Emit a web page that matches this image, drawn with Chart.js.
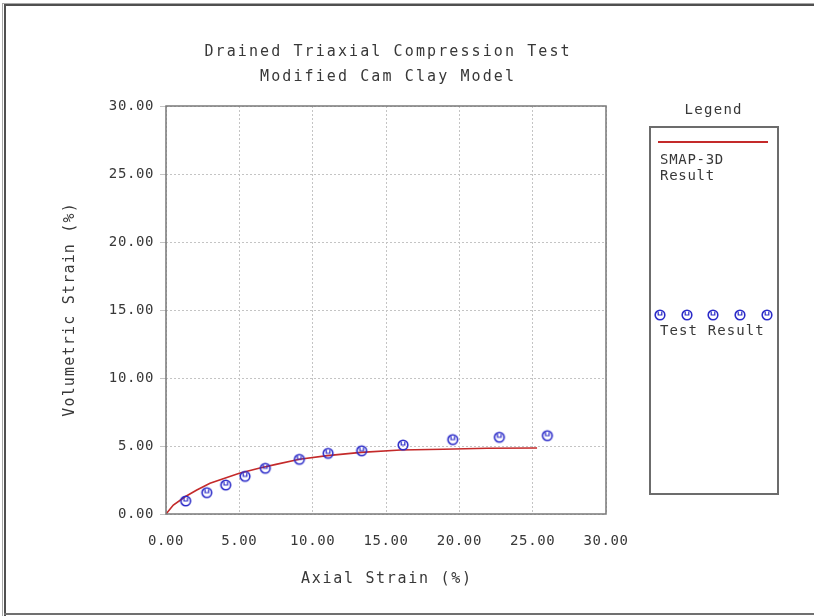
<!DOCTYPE html>
<html>
<head>
<meta charset="utf-8">
<script src="https://cdn.jsdelivr.net/npm/chart.js@4.4.1/dist/chart.umd.min.js"></script>
<style>
  html, body { margin: 0; padding: 0; background: #ffffff; }
  #c { display: block; }
</style>
</head>
<body>
<canvas id="c" width="814" height="616"></canvas>
<script>
// ---- data ----
const titleLines = ["Drained Triaxial Compression Test", "Modified Cam Clay Model"];
const xAxisLabel = "Axial Strain (%)";
const yAxisLabel = "Volumetric Strain (%)";
const xTickValues = [0, 5, 10, 15, 20, 25, 30];
const yTickValues = [0, 5, 10, 15, 20, 25, 30];
const curveName = ["SMAP-3D", "Result"];
const testName = "Test Result";
const curveX = [0, 0.5, 1.3, 2.1, 3.0, 4.1, 5.0, 6.4, 7.5, 9.1, 11.0, 13.3, 16.0, 18.9, 21.9, 25.3];
const curveY = [0, 0.66, 1.27, 1.76, 2.26, 2.67, 3.0, 3.38, 3.65, 4.02, 4.29, 4.53, 4.71, 4.76, 4.83, 4.85];
const testX = [1.34, 2.78, 4.07, 5.39, 6.77, 9.09, 11.05, 13.34, 16.16, 19.55, 22.73, 26.0];
const testY = [0.96, 1.57, 2.13, 2.77, 3.36, 4.02, 4.46, 4.65, 5.07, 5.47, 5.64, 5.76];

const TEXT = '#383838';
const BLUE = '#2a2ac8';
const RED = '#c42a2a';
const MONO = '"DejaVu Sans Mono", "Liberation Mono", monospace';

// marker image (circle with small tick inside)
function makeMarker() {
  const m = document.createElement('canvas');
  m.width = 14; m.height = 14;
  const g = m.getContext('2d');
  g.strokeStyle = BLUE;
  g.lineWidth = 1.6;
  g.beginPath();
  g.arc(7, 7, 4.8, 0, Math.PI * 2);
  g.stroke();
  g.lineWidth = 1.2;
  g.beginPath();
  g.moveTo(5.2, 3.5); g.lineTo(5.2, 7); g.lineTo(8.8, 7); g.lineTo(8.8, 3.5);
  g.stroke();
  return m;
}
const marker = makeMarker();

const curveData = curveX.map((x, i) => ({ x: x, y: curveY[i] }));
const testData = testX.map((x, i) => ({ x: x, y: testY[i] }));

function drawText(ctx, str, x, y, size, spacing, align) {
  ctx.save();
  ctx.font = size + 'px ' + MONO;
  ctx.letterSpacing = spacing + 'px';
  ctx.fillStyle = TEXT;
  ctx.textBaseline = 'middle';
  let w = ctx.measureText(str).width - spacing;
  let sx = x;
  if (align === 'center') sx = x - w / 2;
  else if (align === 'right') sx = x - w;
  ctx.textAlign = 'left';
  ctx.fillText(str, sx, y);
  ctx.restore();
}

const decor = {
  id: 'decor',
  beforeDraw(chart) {
    const ctx = chart.ctx;
    ctx.letterSpacing = '0.6px';
    ctx.save();
    ctx.fillStyle = '#ffffff';
    ctx.fillRect(0, 0, 814, 616);
    ctx.fillStyle = '#a8a8a8';
    ctx.fillRect(2, 3, 812, 1);
    ctx.fillRect(2, 3, 1, 613);
    ctx.fillStyle = '#505050';
    ctx.fillRect(4, 4, 810, 2);
    ctx.fillRect(4, 4, 2, 612);
    ctx.fillStyle = '#707070';
    ctx.fillRect(4, 613, 810, 2);
    ctx.restore();
  },
  afterDatasetsDraw(chart) {
    const ctx = chart.ctx;
    const a = chart.chartArea;
    ctx.save();
    ctx.strokeStyle = '#787878';
    ctx.lineWidth = 1.5;
    ctx.strokeRect(a.left, a.top, a.right - a.left, a.bottom - a.top);
    ctx.restore();
  },
  afterDraw(chart) {
    const ctx = chart.ctx;
    const a = chart.chartArea;
    drawText(ctx, titleLines[0], 387, 52, 15, 2.1, 'center');
    drawText(ctx, titleLines[1], 387, 77, 15, 2.1, 'center');
    drawText(ctx, xAxisLabel, (a.left + a.right) / 2, 579, 15, 1.7, 'center');
    ctx.save();
    ctx.translate(70, (a.top + a.bottom) / 2 + 0);
    ctx.rotate(-Math.PI / 2);
    drawText(ctx, yAxisLabel, 0, 0, 15, 1.2, 'center');
    ctx.restore();
    drawText(ctx, 'Legend', 713, 110, 14, 1.3, 'center');
    ctx.save();
    ctx.strokeStyle = '#6c6c6c';
    ctx.lineWidth = 2;
    ctx.strokeRect(650, 127, 128, 367);
    ctx.strokeStyle = RED;
    ctx.lineWidth = 1.8;
    ctx.beginPath();
    ctx.moveTo(658, 142); ctx.lineTo(768, 142);
    ctx.stroke();
    [660, 687, 713, 740, 767].forEach(px => ctx.drawImage(marker, px - 7, 315 - 7));
    ctx.restore();
    drawText(ctx, curveName[0], 660, 160, 14, 0.7, 'left');
    drawText(ctx, curveName[1], 660, 176, 14, 0.7, 'left');
    drawText(ctx, testName, 660, 331, 14, 1.1, 'left');
    ctx.letterSpacing = '0px';
  }
};

new Chart(document.getElementById('c'), {
  type: 'scatter',
  data: {
    datasets: [
      {
        type: 'line',
        label: 'SMAP-3D Result',
        data: curveData,
        borderColor: RED,
        borderWidth: 1.6,
        pointRadius: 0,
        fill: false,
        tension: 0,
        order: 2
      },
      {
        label: 'Test Result',
        data: testData,
        pointStyle: marker,
        pointRadius: 6,
        showLine: false,
        order: 1
      }
    ]
  },
  options: {
    responsive: false,
    animation: false,
    devicePixelRatio: 1,
    layout: { padding: { left: 0, right: 208, top: 106, bottom: 0 } },
    plugins: { legend: { display: false }, title: { display: false }, tooltip: { enabled: false } },
    scales: {
      x: {
        type: 'linear',
        min: 0, max: 30,
        afterBuildTicks: s => { s.ticks = xTickValues.map(v => ({ value: v })); },
        afterFit: s => { s.height = 102; },
        grid: { color: '#c4c4c4', lineWidth: 1, tickLength: 0, drawTicks: false },
        border: { display: false, dash: [2, 2] },
        ticks: {
          color: TEXT,
          font: { family: MONO, size: 14 },
          padding: 19,
          maxRotation: 0,
          callback: v => Number(v).toFixed(2)
        }
      },
      y: {
        type: 'linear',
        min: 0, max: 30,
        afterBuildTicks: s => { s.ticks = yTickValues.map(v => ({ value: v })); },
        afterFit: s => { s.width = 166; },
        grid: { color: '#c4c4c4', lineWidth: 1, tickLength: 6 },
        border: { display: false, dash: [2, 2] },
        ticks: {
          color: TEXT,
          font: { family: MONO, size: 14 },
          padding: 6,
          callback: v => Number(v).toFixed(2)
        }
      }
    }
  },
  plugins: [decor]
});
</script>
</body>
</html>
